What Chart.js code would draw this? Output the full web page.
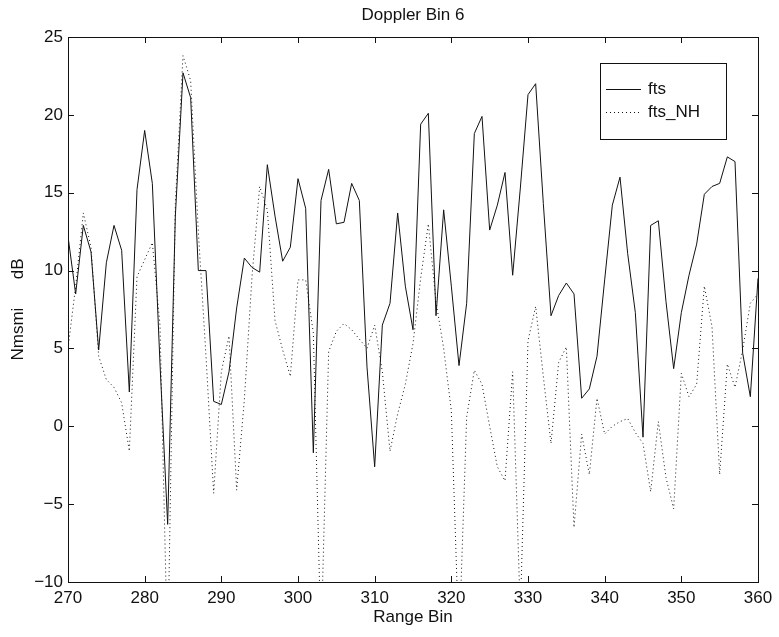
<!DOCTYPE html>
<html>
<head>
<meta charset="utf-8">
<title>Doppler Bin 6</title>
<script src="https://cdn.jsdelivr.net/npm/chart.js@4.4.1/dist/chart.umd.min.js"></script>
<style>
    html, body { margin: 0; padding: 0; background: #fff; }
    #wrap { width: 779px; height: 637px; }
</style>
</head>
<body>
<div id="wrap"><canvas id="dopplerChart" width="779" height="637"></canvas></div>
<script>
const rangeBins = [
    270, 271, 272, 273, 274, 275, 276, 277, 278, 279,
    280, 281, 282, 283, 284, 285, 286, 287, 288, 289,
    290, 291, 292, 293, 294, 295, 296, 297, 298, 299,
    300, 301, 302, 303, 304, 305, 306, 307, 308, 309,
    310, 311, 312, 313, 314, 315, 316, 317, 318, 319,
    320, 321, 322, 323, 324, 325, 326, 327, 328, 329,
    330, 331, 332, 333, 334, 335, 336, 337, 338, 339,
    340, 341, 342, 343, 344, 345, 346, 347, 348, 349,
    350, 351, 352, 353, 354, 355, 356, 357, 358, 359,
    360
];

const fts = [
    12.2, 8.5, 12.9, 11.2, 4.9, 10.5, 12.9, 11.3, 2.2, 15.2,
    19.0, 15.6, 4.0, -6.3, 13.5, 22.7, 21.1, 10.0, 10.0, 1.6,
    1.4, 3.5, 7.6, 10.8, 10.2, 9.9, 16.8, 13.5, 10.6, 11.5,
    15.9, 14.0, -1.7, 14.5, 16.5, 13.0, 13.1, 15.6, 14.5, 3.8,
    -2.6, 6.5, 7.9, 13.7, 9.0, 6.2, 19.4, 20.1, 7.1, 13.9,
    9.0, 3.9, 7.9, 18.8, 19.9, 12.6, 14.2, 16.3, 9.7, 15.3,
    21.3, 22.0, 14.3, 7.1, 8.4, 9.2, 8.5, 1.8, 2.4, 4.5,
    9.4, 14.2, 16.0, 11.1, 7.3, -0.7, 12.9, 13.2, 8.0, 3.7,
    7.3, 9.7, 11.7, 14.9, 15.4, 15.6, 17.3, 17.0, 4.7, 1.9,
    9.5
];

const ftsNH = [
    5.0, 9.0, 13.7, 11.5, 4.5, 3.0, 2.5, 1.5, -1.6, 9.6,
    10.7, 11.8, 6.5, -15.0, 14.3, 23.8, 22.2, 12.5, 4.5, -4.3,
    3.5, 5.8, -4.1, 1.7, 9.6, 15.4, 13.9, 6.8, 4.9, 3.2,
    9.4, 9.4, 6.0, -14.0, 4.8, 6.1, 6.6, 6.2, 5.6, 5.0,
    6.5, 3.5, -1.6, 0.8, 2.7, 5.3, 9.5, 13.0, 8.0, 5.0,
    1.0, -14.0, 0.6, 3.6, 2.7, 0.0, -2.6, -3.5, 3.5, -12.0,
    5.5, 7.7, 3.2, -1.1, 4.1, 5.1, -6.5, -0.5, -3.1, 1.8,
    -0.5, 0.0, 0.3, 0.5, -0.4, -1.1, -4.2, 0.3, -3.3, -5.3,
    3.4, 1.9, 2.7, 9.0, 6.4, -3.1, 4.0, 2.5, 4.9, 7.9,
    8.5
];

const xTicks = [270, 280, 290, 300, 310, 320, 330, 340, 350, 360];
const yTicks = [-10, -5, 0, 5, 10, 15, 20, 25];

const FONT = "'Liberation Sans', Arial, Helvetica, sans-serif";
const INK = '#111';

function toPoints(values) {
    return rangeBins.map((x, i) => ({ x: x, y: values[i] }));
}

// matlab style box with inward ticks on all four sides
const boxTicks = {
    id: 'boxTicks',
    afterDraw(chart) {
        const ctx = chart.ctx;
        const area = chart.chartArea;
        const xs = chart.scales.x;
        const ys = chart.scales.y;
        const len = 6;
        ctx.save();
        ctx.strokeStyle = INK;
        ctx.lineWidth = 1;
        ctx.beginPath();
        xTicks.forEach(v => {
            const px = Math.round(xs.getPixelForValue(v)) + 0.5;
            ctx.moveTo(px, area.bottom); ctx.lineTo(px, area.bottom - len);
            ctx.moveTo(px, area.top); ctx.lineTo(px, area.top + len);
        });
        yTicks.forEach(v => {
            const py = Math.round(ys.getPixelForValue(v)) + 0.5;
            ctx.moveTo(area.left, py); ctx.lineTo(area.left + len, py);
            ctx.moveTo(area.right, py); ctx.lineTo(area.right - len, py);
        });
        ctx.stroke();
        ctx.strokeRect(Math.round(area.left) + 0.5, Math.round(area.top) + 0.5,
            Math.round(area.right - area.left), Math.round(area.bottom - area.top));
        ctx.restore();
    }
};

// legend box in the upper right corner of the axes
const boxLegend = {
    id: 'boxLegend',
    afterDraw(chart) {
        const ctx = chart.ctx;
        const area = chart.chartArea;
        const w = 126, h = 76;
        const left = area.right - 32 - w;
        const top = area.top + 26;
        ctx.save();
        ctx.fillStyle = '#fff';
        ctx.fillRect(left, top, w, h);
        ctx.strokeStyle = INK;
        ctx.lineWidth = 1;
        ctx.strokeRect(Math.round(left) + 0.5, Math.round(top) + 0.5, w, h);
        chart.data.datasets.forEach((ds, i) => {
            const y = Math.round(top + 26 + i * 23) + 0.5;
            ctx.beginPath();
            ctx.setLineDash(ds.borderDash || []);
            ctx.strokeStyle = ds.borderColor;
            ctx.moveTo(left + 6, y);
            ctx.lineTo(left + 41, y);
            ctx.stroke();
            ctx.setLineDash([]);
            ctx.fillStyle = INK;
            ctx.font = '17px ' + FONT;
            ctx.textBaseline = 'middle';
            ctx.fillText(ds.label, left + 48, y);
        });
        ctx.restore();
    }
};

const ctx = document.getElementById('dopplerChart').getContext('2d');
const myChart = new Chart(ctx, {
    type: 'line',
    data: {
        datasets: [
            {
                label: 'fts',
                data: toPoints(fts),
                borderColor: INK,
                borderWidth: 1,
                pointRadius: 0,
                tension: 0,
                fill: false
            },
            {
                label: 'fts_NH',
                data: toPoints(ftsNH),
                borderColor: INK,
                borderWidth: 1,
                borderDash: [1, 3],
                pointRadius: 0,
                tension: 0,
                fill: false
            }
        ]
    },
    options: {
        responsive: false,
        animation: false,
        devicePixelRatio: 1,
        layout: { padding: { left: 0, right: 21, top: 0, bottom: 0 } },
        plugins: {
            legend: { display: false },
            tooltip: { enabled: false },
            title: {
                display: true,
                text: 'Doppler Bin 6',
                fullSize: false,
                color: INK,
                font: { family: FONT, size: 17, weight: 'normal' },
                padding: { top: 5, bottom: 11.6 }
            }
        },
        scales: {
            x: {
                type: 'linear',
                min: 270, max: 360,
                grid: { display: false, drawTicks: false },
                border: { display: false },
                afterBuildTicks: (scale) => { scale.ticks = xTicks.map(v => ({ value: v })); },
                afterFit: (scale) => { scale.height = 55; },
                ticks: {
                    color: INK,
                    padding: 6,
                    maxRotation: 0,
                    font: { family: FONT, size: 17 }
                },
                title: {
                    display: true,
                    text: 'Range Bin',
                    color: INK,
                    font: { family: FONT, size: 17 },
                    padding: { top: 0, bottom: 9 }
                }
            },
            y: {
                min: -10, max: 25,
                grid: { display: false, drawTicks: false },
                border: { display: false },
                afterBuildTicks: (scale) => { scale.ticks = yTicks.map(v => ({ value: v })); },
                afterFit: (scale) => { scale.width = 68; },
                ticks: {
                    color: INK,
                    padding: 5,
                    font: { family: FONT, size: 17 },
                    callback: (v) => String(v).replace('-', '\u2212')
                },
                title: {
                    display: true,
                    text: 'Nmsmi      dB',
                    color: INK,
                    font: { family: FONT, size: 17 },
                    padding: { top: 8, bottom: 0 }
                }
            }
        }
    },
    plugins: [boxTicks, boxLegend]
});
</script>
</body>
</html>
